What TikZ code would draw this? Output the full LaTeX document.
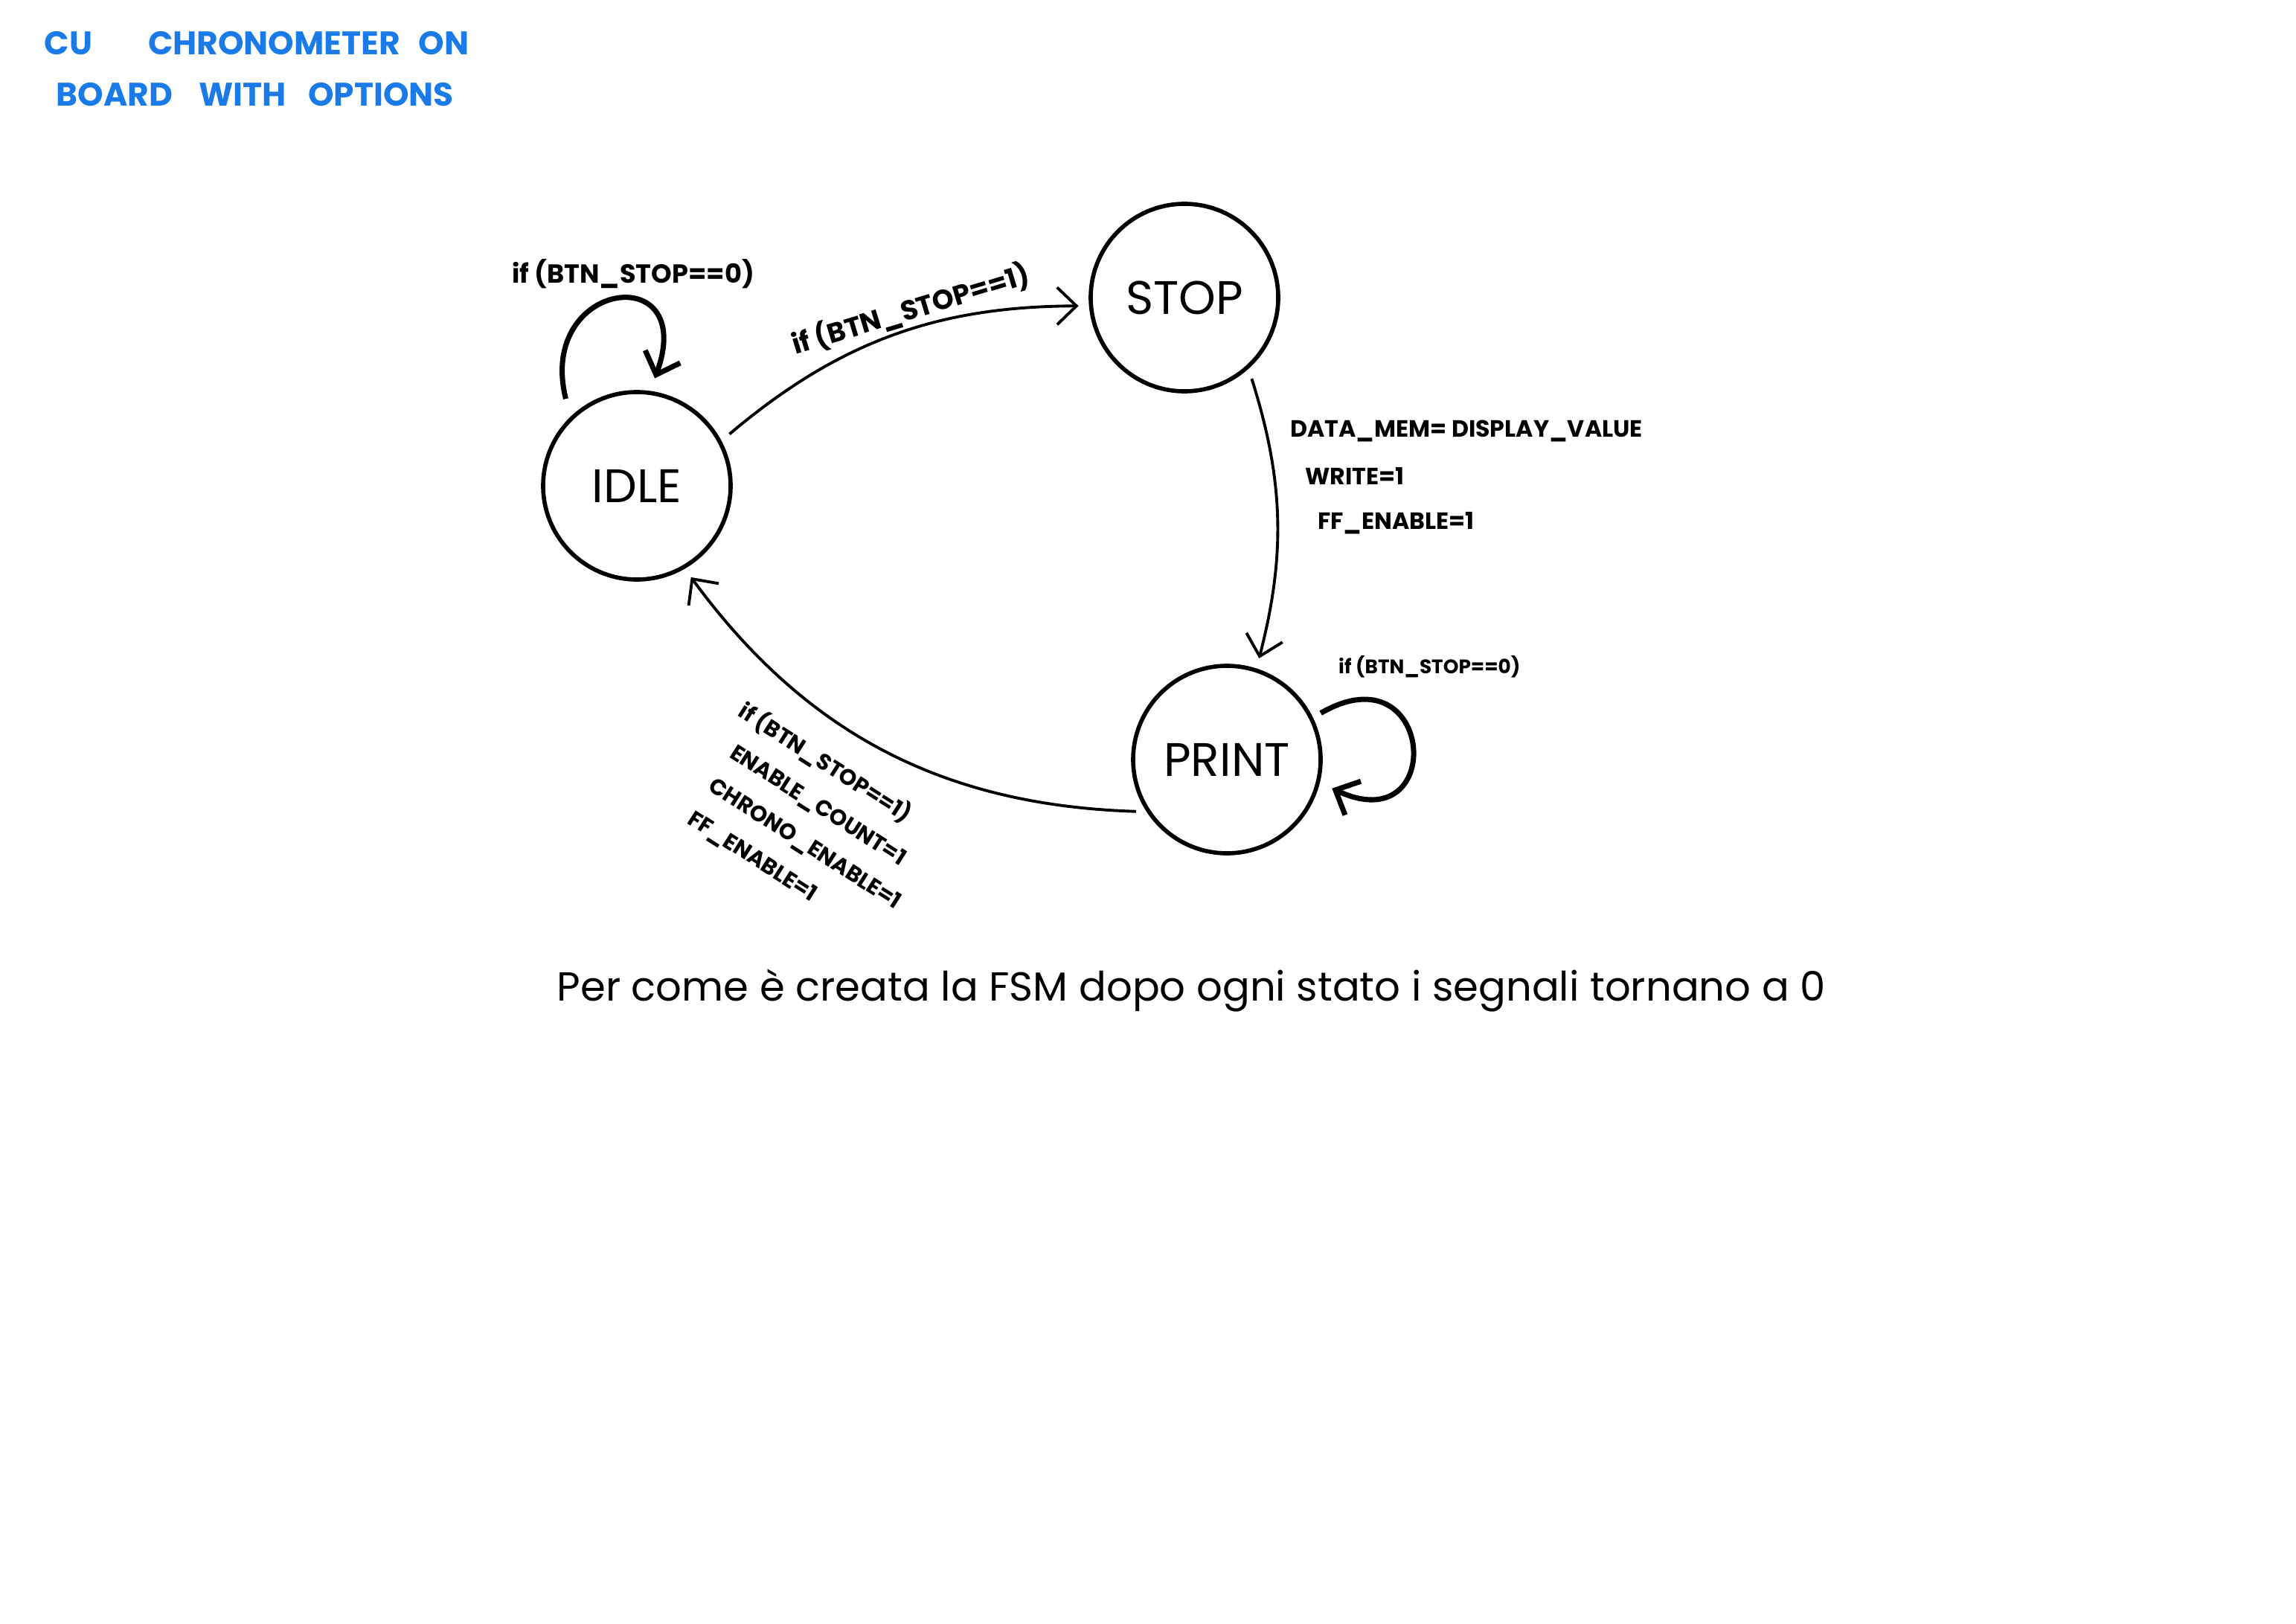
\documentclass[tikz,border=0pt]{standalone}
\usepackage{fontspec}
\setmainfont{Poppins}
\usetikzlibrary{arrows.meta}
\definecolor{penblue}{RGB}{25,122,232}

\begin{document}
\begin{tikzpicture}[font=\fontsize{9}{14}\selectfont\bfseries,>={Straight Barb[length=2.6mm,width=5mm]},
    state/.style={circle,draw,line width=1.6pt,minimum size=2.52cm,inner sep=0pt,font=\fontsize{18}{20}\selectfont},
    trans/.style={->,line width=1.1pt,shorten <=4pt,shorten >=4pt},
    selfloop/.style={->,line width=2pt},
    lbl/.style={inner sep=1pt}]
    \useasboundingbox (0,0) rectangle (30.86,-21.82);
    % title
    \node[anchor=base west,inner sep=0pt,text=penblue,font=\fontsize{12.5}{16}\selectfont\bfseries] (title1) at (0.59,-0.73) {CU\hspace{0.75cm}CHRONOMETER\hspace{0.25cm}ON};
    \node[anchor=base west,inner sep=0pt,text=penblue,font=\fontsize{12.5}{16}\selectfont\bfseries] (title2) at (0.75,-1.42) {BOARD\hspace{0.35cm}WITH\hspace{0.3cm}OPTIONS};
    % states
    \node[state] (idle) at (8.56,-6.53) {IDLE};
    \node[state] (stop) at (15.92,-4.00) {STOP};
    \node[state] (print) at (16.49,-10.21) {PRINT};
    % transitions
    \draw[trans] (idle.28) to[bend left=20] node[pos=0.57,sloped,above,lbl,font=\fontsize{10.5}{12}\selectfont\bfseries] (lblgo) {if (BTN\_STOP==1)} (stop.185);
    \draw[trans] (stop.-48) to[bend left=16] (print.72);
    \draw[trans] (print.213) to[bend left=26] (idle.300);
    \draw[selfloop,shorten <=0.25cm,shorten >=0.18cm] (idle.134) to[out=104,in=70,looseness=4.3] (idle.82);
    \draw[selfloop,shorten <=0.12cm,shorten >=0.18cm] (print.26) to[out=30,in=-25,looseness=5.5] (print.-14);
    % labels
    \node[anchor=base,lbl,font=\fontsize{10}{12}\selectfont\bfseries] (lblidle) at (8.51,-3.80) {if (BTN\_STOP==0)};
    \node[anchor=base west,lbl,font=\fontsize{7.5}{9}\selectfont\bfseries] (lblprint) at (17.95,-9.05) {if (BTN\_STOP==0)};
    \node[anchor=base west,lbl] (act1) at (17.30,-5.87) {DATA\_MEM= DISPLAY\_VALUE};
    \node[anchor=base west,lbl] (act2) at (17.50,-6.51) {WRITE=1};
    \node[anchor=base west,lbl] (act3) at (17.67,-7.11) {FF\_ENABLE=1};
    \node[anchor=north west,rotate=-32.5,align=left,inner sep=0pt,font=\fontsize{8.5}{15}\selectfont\bfseries] (lblback) at (10.05,-9.38)
      {if (BTN\_STOP==1)\\\hspace{0.2cm}ENABLE\_COUNT=1\\\hspace{0.2cm}CHRONO\_ENABLE=1\\\hspace{0.2cm}FF\_ENABLE=1};
    % note
    \node[anchor=base west,inner sep=0pt,font=\fontsize{15.5}{18}\selectfont] (note) at (7.48,-13.45) {Per come è creata la FSM dopo ogni stato i segnali tornano a 0};
\end{tikzpicture}
\end{document}
